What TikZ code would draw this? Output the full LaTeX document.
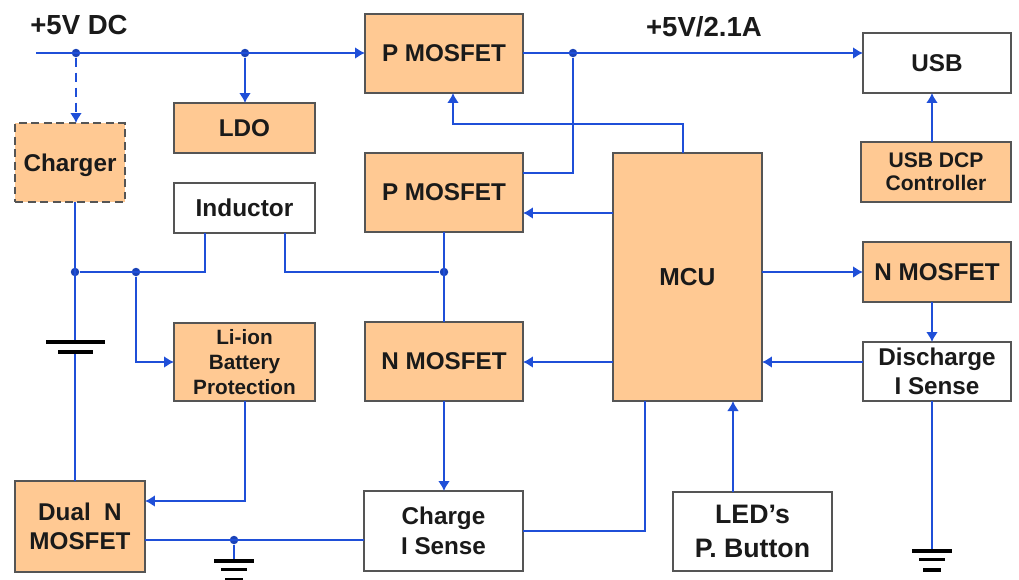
\documentclass[tikz,border=0pt]{standalone}
\usepackage{fontspec}
\setmainfont{Liberation Sans}
\usetikzlibrary{arrows.meta,calc}
\definecolor{boxorange}{HTML}{FFC993}
\definecolor{wireblue}{HTML}{1F4FD8}
\definecolor{boxedge}{HTML}{555555}
\definecolor{inktext}{HTML}{1A1A1A}
\tikzset{
	block/.style={draw=boxedge, line width=0.4mm, inner sep=0, outer sep=0, align=center, text=inktext, font=\fontsize{13.8}{16.4}\selectfont\bfseries},
	hot/.style={block, fill=boxorange},
	cold/.style={block, fill=white},
	wire/.style={draw=wireblue, line width=0.55mm},
	feed/.style={wire, -{Latex[length=2mm,width=2.4mm]}},
	junction/.style={circle, fill=wireblue!85!black, inner sep=0, minimum size=0.17cm},
	plate/.style={draw=black, line width=0.7mm},
	rail/.style={text=inktext, inner sep=0, font=\fontsize{15.7}{18}\selectfont\bfseries}
}
\def\gndsym(#1,#2){\draw[plate] (#1-20, #2) -- (#1+20, #2); \draw[plate] (#1-13, #2+8.5) -- (#1+13, #2+8.5); \draw[plate] (#1-9, #2+19) -- (#1+9, #2+19);}

\begin{document}
\begin{tikzpicture}[x=0.02cm, y=-0.02cm]
		%%%%% START %%%%%
		\useasboundingbox (0, 0) rectangle (1019, 579);
		
		\node[rail] (railin) at (79, 24.5) {+5V DC};
		\node[rail] (railout) at (704, 27) {+5V/2.1A};
		
		\node[hot, minimum width=3.16cm, minimum height=1.58cm] (pfetA) at (444, 53.5) {P MOSFET};
		\node[hot, minimum width=3.16cm, minimum height=1.58cm] (pfetB) at (444, 192.5) {P MOSFET};
		\node[hot, minimum width=3.16cm, minimum height=1.58cm] (nfetA) at (444, 361.5) {N MOSFET};
		\node[hot, minimum width=2.82cm, minimum height=1cm] (ldo) at (244.5, 128) {LDO};
		\node[hot, dash pattern=on 1.6mm off 0.9mm, text depth=0pt, minimum width=2.2cm, minimum height=1.58cm] (chrg) at (70, 162.5) {Charger};
		\node[cold, minimum width=2.82cm, minimum height=1cm, font=\fontsize{13.9}{17}\selectfont\bfseries] (ind) at (244.5, 208) {Inductor};
		\node[hot, minimum width=2.82cm, minimum height=1.58cm, font=\fontsize{11.8}{14.2}\selectfont\bfseries] (prot) at (244.5, 362) {Li-ion\\Battery\\Protection};
		\node[hot, minimum width=2.6cm, minimum height=1.82cm] (dual) at (80, 526.5) {Dual~~N\\MOSFET};
		\node[cold, minimum width=3.18cm, minimum height=1.6cm, font=\fontsize{13.8}{17}\selectfont\bfseries] (csense) at (443.5, 531) {Charge\\I Sense};
		\node[cold, minimum width=3.18cm, minimum height=1.58cm, font=\fontsize{15.2}{19.3}\selectfont\bfseries] (led) at (752.5, 531) {LED’s\\P. Button};
		\node[hot, minimum width=2.98cm, minimum height=4.96cm, font=\fontsize{14}{17}\selectfont\bfseries] (mcu) at (687.5, 277) {MCU};
		\node[cold, minimum width=2.96cm, minimum height=1.2cm] (usb) at (937, 63) {USB};
		\node[hot, minimum width=3cm, minimum height=1.2cm, font=\fontsize{12}{13}\selectfont\bfseries] (dcp) at (936, 172) {USB DCP\\Controller};
		\node[hot, minimum width=2.96cm, minimum height=1.2cm] (nfetB) at (937, 272) {N MOSFET};
		\node[cold, minimum width=2.96cm, minimum height=1.18cm] (dsense) at (937, 371.5) {Discharge\\I Sense};
		
		\node[junction] (tapchg) at (76, 53) {};
		\node[junction] (tapldo) at (245, 53) {};
		\node[junction] (tapusb) at (573, 53) {};
		\node[junction] (tapbat) at (75, 272) {};
		\node[junction] (tapprot) at (136, 272) {};
		\node[junction] (tapsw) at (444, 272) {};
		\node[junction] (tapgnd) at (234, 540) {};
		
		\coordinate (railstart) at (36, 53);
		\coordinate (gndA) at (234, 561);
		\coordinate (gndB) at (932, 551);
		\coordinate (batlong) at (75, 342);
		\coordinate (batshort) at (75, 352);
		\coordinate (indleft) at (205, 272);
		\coordinate (indright) at (285, 272);
		\coordinate (mculeft) at (683, 124);
		\coordinate (pfetin) at (453, 124);
		\coordinate (usbdrop) at (573, 173);
		\coordinate (mcuout) at (613, 213);
		\coordinate (mcuback) at (613, 362);
		\coordinate (csenseup) at (645, 531);
		\coordinate (protdown) at (245, 501);
		\coordinate (btnup) at (733, 401);
		
		% input rail
		\draw[feed] (railstart) -- (pfetA.west |- railstart);
		\draw[feed, dash pattern=on 1.8mm off 1.2mm] (tapchg) -- (tapchg |- chrg.north);
		\draw[feed] (tapldo) -- (tapldo |- ldo.north);
		\draw[feed] (pfetA.east |- railstart) -- (usb.west |- railstart);
		\draw[wire] (tapusb) -- (usbdrop) -- (pfetB.east |- usbdrop);
		
		% battery side
		\draw[wire] (tapbat |- chrg.south) -- (batlong);
		\draw[wire] (batshort) -- (batshort |- dual.north);
		\draw[plate] ($(batlong)+(-29, 0)$) -- ($(batlong)+(30, 0)$);
		\draw[plate] ($(batshort)+(-17, 0)$) -- ($(batshort)+(18, 0)$);
		\draw[wire] (tapbat) -- (indleft) -- (indleft |- ind.south);
		\draw[wire] (indright |- ind.south) -- (indright) -- (tapsw);
		\draw[feed] (tapprot) -- (tapprot |- prot.west) -- (prot.west);
		\draw[feed] (prot.south -| protdown) -- (protdown) -- (dual.east |- protdown);
		
		% charge path
		\draw[wire] (pfetB.south) -- (nfetA.north);
		\draw[feed] (nfetA.south) -- (nfetA.south |- csense.north);
		\draw[wire] (dual.east |- tapgnd) -- (csense.west |- tapgnd);
		\draw[wire] (tapgnd) -- (gndA);
		\gndsym(234,561)
		\draw[wire] (csense.east |- csenseup) -- (csenseup) -- (csenseup |- mcu.south);
		
		% mcu signals
		\draw[feed] (mculeft |- mcu.north) -- (mculeft) -- (pfetin) -- (pfetin |- pfetA.south);
		\draw[feed] (mcuout) -- (pfetB.east |- mcuout);
		\draw[feed] (mcuback) -- (nfetA.east |- mcuback);
		\draw[feed] (mcu.east |- nfetB.west) -- (nfetB.west);
		\draw[feed] (btnup |- led.north) -- (btnup);
		
		% usb column
		\draw[feed] (gndB |- dcp.north) -- (gndB |- usb.south);
		\draw[feed] (gndB |- nfetB.south) -- (gndB |- dsense.north);
		\draw[feed] (dsense.west |- mcuback) -- (mcu.east |- mcuback);
		\draw[wire] (gndB |- dsense.south) -- (gndB);
		\gndsym(932,551)
		
		%%%%% END %%%%%
	\end{tikzpicture}
\end{document}
